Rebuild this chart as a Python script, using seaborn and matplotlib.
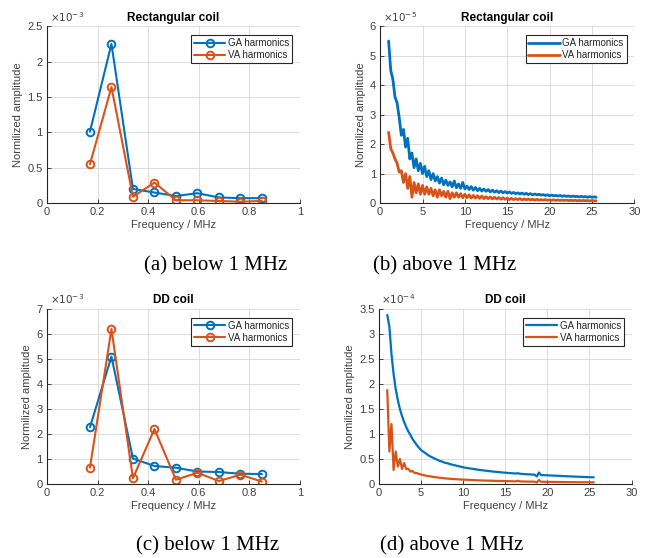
import numpy as np
import matplotlib
matplotlib.use("Agg")
import matplotlib.pyplot as plt
import seaborn as sns

# harmonics below 1 MHz
f_low = [0.17, 0.255, 0.34, 0.425, 0.51, 0.595, 0.68, 0.765, 0.85]
rect_ga_low = [1.01, 2.25, 0.20, 0.15, 0.10, 0.14, 0.08, 0.07, 0.07]   # x1e-3
rect_va_low = [0.55, 1.64, 0.09, 0.29, 0.04, 0.04, 0.03, 0.02, 0.03]   # x1e-3
dd_ga_low = [2.27, 5.10, 1.02, 0.72, 0.65, 0.50, 0.48, 0.41, 0.40]     # x1e-3
dd_va_low = [0.65, 6.20, 0.23, 2.20, 0.17, 0.45, 0.12, 0.37, 0.10]     # x1e-3

# harmonics above 1 MHz, read every 0.25 MHz from 1 to 25.5 MHz
rect_ga_high = [  # x1e-5
    5.5, 4.5, 4.2, 3.6, 3.4, 2.9, 2.3, 2.5, 1.9, 2.2,
    1.5, 1.7, 1.2, 1.5, 1.1, 1.35, 1.0, 1.25, 0.9, 1.1,
    0.8, 1.0, 0.75, 0.9, 0.68, 0.85, 0.62, 0.78, 0.6, 0.72,
    0.55, 0.75, 0.52, 0.65, 0.5, 0.7, 0.48, 0.58, 0.46, 0.56,
    0.44, 0.53, 0.42, 0.5, 0.41, 0.48, 0.4, 0.46, 0.38, 0.44,
    0.37, 0.42, 0.36, 0.41, 0.35, 0.39, 0.34, 0.38, 0.33, 0.36,
    0.32, 0.35, 0.31, 0.34, 0.30, 0.33, 0.29, 0.32, 0.28, 0.31,
    0.28, 0.30, 0.27, 0.29, 0.26, 0.28, 0.25, 0.27, 0.25, 0.26,
    0.24, 0.26, 0.23, 0.25, 0.23, 0.24, 0.22, 0.24, 0.22, 0.23,
    0.21, 0.23, 0.21, 0.22, 0.20, 0.22, 0.20, 0.21, 0.20]
rect_va_high = [  # x1e-5
    2.4, 1.85, 1.7, 1.5, 1.35, 1.05, 1.1, 0.7, 1.0, 0.5,
    0.9, 0.2, 0.7, 0.35, 0.65, 0.3, 0.6, 0.3, 0.55, 0.3,
    0.5, 0.25, 0.45, 0.2, 0.45, 0.25, 0.4, 0.2, 0.4, 0.15,
    0.35, 0.2, 0.35, 0.2, 0.32, 0.18, 0.3, 0.18, 0.28, 0.17,
    0.26, 0.17, 0.25, 0.16, 0.24, 0.15, 0.22, 0.15, 0.21, 0.14,
    0.2, 0.14, 0.19, 0.13, 0.18, 0.13, 0.17, 0.12, 0.16, 0.12,
    0.15, 0.12, 0.15, 0.11, 0.14, 0.11, 0.14, 0.11, 0.13, 0.1,
    0.13, 0.1, 0.12, 0.1, 0.12, 0.095, 0.11, 0.095, 0.11, 0.09,
    0.105, 0.09, 0.1, 0.09, 0.1, 0.085, 0.095, 0.085, 0.095, 0.08,
    0.09, 0.08, 0.09, 0.08, 0.085, 0.075, 0.085, 0.075, 0.08]
dd_ga_high = [  # x1e-4
    3.38, 3.15, 2.6, 2.2, 1.9, 1.68, 1.5, 1.36, 1.24, 1.14,
    1.05, 0.98, 0.9, 0.84, 0.78, 0.73, 0.68, 0.65, 0.62, 0.59,
    0.56, 0.54, 0.52, 0.50, 0.48, 0.46, 0.45, 0.43, 0.42, 0.41,
    0.395, 0.385, 0.375, 0.365, 0.355, 0.345, 0.335, 0.327, 0.32, 0.313,
    0.306, 0.30, 0.293, 0.287, 0.281, 0.276, 0.27, 0.265, 0.26, 0.255,
    0.25, 0.246, 0.242, 0.238, 0.234, 0.23, 0.226, 0.222, 0.219, 0.216,
    0.213, 0.21, 0.215, 0.205, 0.202, 0.199, 0.196, 0.194, 0.191, 0.189,
    0.186, 0.15, 0.23, 0.18, 0.178, 0.176, 0.174, 0.172, 0.17, 0.168,
    0.166, 0.164, 0.162, 0.16, 0.158, 0.156, 0.154, 0.152, 0.15, 0.148,
    0.146, 0.145, 0.143, 0.141, 0.14, 0.138, 0.137, 0.135, 0.134]
dd_va_high = [  # x1e-4
    1.88, 0.65, 1.2, 0.28, 0.65, 0.35, 0.5, 0.3, 0.42, 0.3,
    0.3, 0.25, 0.26, 0.22, 0.22, 0.2, 0.19, 0.18, 0.17, 0.16,
    0.155, 0.15, 0.14, 0.135, 0.13, 0.125, 0.12, 0.115, 0.11, 0.107,
    0.104, 0.1, 0.097, 0.095, 0.092, 0.09, 0.088, 0.086, 0.084, 0.082,
    0.08, 0.078, 0.076, 0.074, 0.072, 0.071, 0.07, 0.068, 0.067, 0.066,
    0.065, 0.063, 0.062, 0.061, 0.06, 0.059, 0.058, 0.057, 0.056, 0.055,
    0.054, 0.053, 0.065, 0.052, 0.051, 0.05, 0.049, 0.048, 0.048, 0.047,
    0.046, 0.03, 0.08, 0.045, 0.044, 0.044, 0.043, 0.042, 0.042, 0.041,
    0.041, 0.04, 0.04, 0.039, 0.039, 0.038, 0.038, 0.037, 0.037, 0.037,
    0.036, 0.036, 0.036, 0.035, 0.035, 0.035, 0.034, 0.034, 0.034]

f_high = np.linspace(1.0, 25.5, len(rect_ga_high))

BLUE = "#0072BD"
ORANGE = "#D95319"
TXT = "#404040"

sns.set_theme(style="whitegrid")
plt.rcParams["font.family"] = ["Liberation Sans", "DejaVu Sans"]

fig = plt.figure(figsize=(6.6, 5.58), dpi=100)
fig.patch.set_facecolor("white")

# axes rectangles in figure fractions
rects = [
    [0.0712, 0.636, 0.383, 0.317],
    [0.576, 0.636, 0.385, 0.317],
    [0.0712, 0.1326, 0.383, 0.3136],
    [0.574, 0.1326, 0.383, 0.3136],
]

panels = [
    dict(title="Rectangular coil", x=f_low, ga=rect_ga_low, va=rect_va_low,
         xlim=(0, 1), xticks=[0, 0.2, 0.4, 0.6, 0.8, 1], ylim=(0, 2.5),
         yticks=[0, 0.5, 1, 1.5, 2, 2.5], exp="-3", marker=True, lw=1.5),
    dict(title="Rectangular coil", x=f_high, ga=rect_ga_high, va=rect_va_high,
         xlim=(0, 30), xticks=[0, 5, 10, 15, 20, 25, 30], ylim=(0, 6),
         yticks=[0, 1, 2, 3, 4, 5, 6], exp="-5", marker=False, lw=2.0),
    dict(title="DD coil", x=f_low, ga=dd_ga_low, va=dd_va_low,
         xlim=(0, 1), xticks=[0, 0.2, 0.4, 0.6, 0.8, 1], ylim=(0, 7),
         yticks=[0, 1, 2, 3, 4, 5, 6, 7], exp="-3", marker=True, lw=1.5),
    dict(title="DD coil", x=f_high, ga=dd_ga_high, va=dd_va_high,
         xlim=(0, 30), xticks=[0, 5, 10, 15, 20, 25, 30], ylim=(0, 3.5),
         yticks=[0, 0.5, 1, 1.5, 2, 2.5, 3, 3.5], exp="-4", marker=False, lw=1.6),
]

for rect, p in zip(rects, panels):
    ax = fig.add_axes(rect)
    ax.set_facecolor("white")
    if p["marker"]:
        kw = dict(marker="o", markersize=5.5, markerfacecolor="none",
                  markeredgewidth=1.4, linewidth=p["lw"])
    else:
        kw = dict(linewidth=p["lw"])
    sns.lineplot(x=p["x"], y=p["ga"], ax=ax, color=BLUE, label="GA harmonics",
                 sort=False, **kw)
    sns.lineplot(x=p["x"], y=p["va"], ax=ax, color=ORANGE, label="VA harmonics",
                 sort=False, **kw)
    if p["marker"]:
        for ln in ax.lines:
            ln.set_markeredgecolor(ln.get_color())

    ax.set_xlim(*p["xlim"])
    ax.set_ylim(*p["ylim"])
    ax.set_xticks(p["xticks"])
    ax.set_yticks(p["yticks"])
    ax.set_xticklabels([f"{t:g}" for t in p["xticks"]])
    ax.set_yticklabels([f"{t:g}" for t in p["yticks"]])
    ax.grid(True, color="#dcdcdc", linewidth=0.7)
    for s in ["top", "right"]:
        ax.spines[s].set_visible(False)
    for s in ["left", "bottom"]:
        ax.spines[s].set_color("#262626")
        ax.spines[s].set_linewidth(0.8)
    ax.tick_params(axis="both", direction="in", length=3, width=0.6,
                   colors="#262626", labelcolor=TXT, labelsize=8, pad=3,
                   bottom=True, left=True)
    ax.set_title(p["title"], fontsize=8.5, fontweight="bold", color="black", pad=4)
    ax.set_xlabel("Frequency / MHz", fontsize=8, color=TXT, labelpad=2)
    ax.set_ylabel("Normilized amplitude", fontsize=8, color=TXT, labelpad=3)
    ax.text(0.01, 1.015, r"$\times10^{" + p["exp"] + "}$", transform=ax.transAxes,
            fontsize=7.5, color=TXT, ha="left", va="bottom")
    leg = ax.legend(loc="upper right", bbox_to_anchor=(0.97, 0.95), fontsize=7,
                    frameon=True, fancybox=False, framealpha=1, edgecolor="#262626",
                    borderpad=0.3, handlelength=3.2, handletextpad=0.3,
                    labelspacing=0.2, borderaxespad=0)
    leg.get_frame().set_linewidth(0.8)

caps = [("(a) below 1 MHz", 0.326, 0.523), ("(b) above 1 MHz", 0.674, 0.523),
        ("(c) below 1 MHz", 0.314, 0.022), ("(d) above 1 MHz", 0.684, 0.022)]
for txt, cx, cy in caps:
    fig.text(cx, cy, txt, ha="center", va="center", fontsize=15,
             family=["Liberation Serif", "DejaVu Serif"], color="black")

fig.savefig("out.png", dpi=100, facecolor="white")
